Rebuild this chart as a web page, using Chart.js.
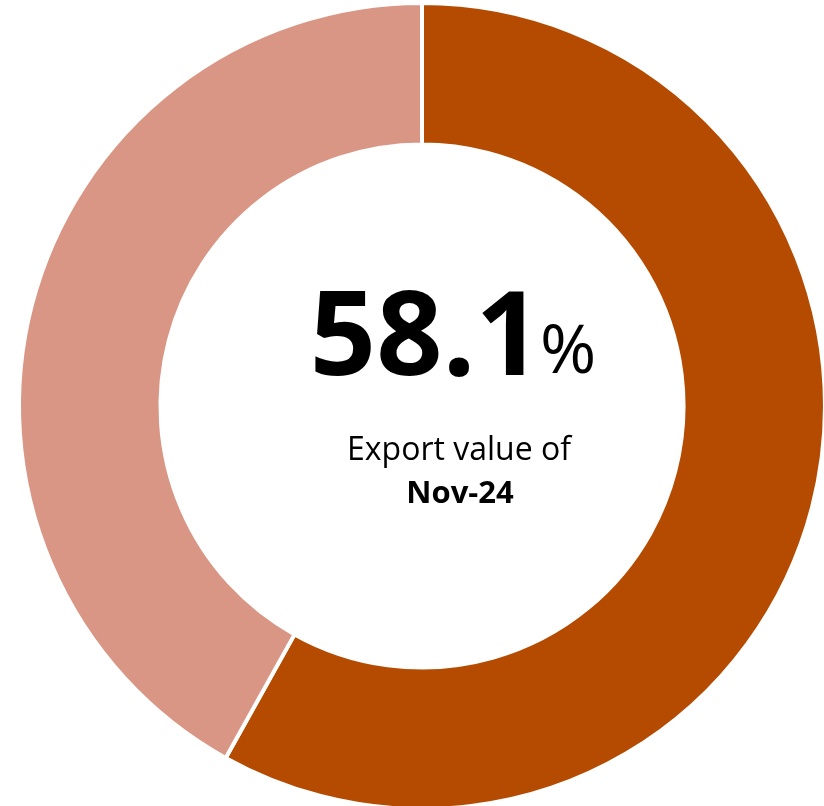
<!DOCTYPE html>
<html>
<head>
<meta charset="utf-8">
<script src="https://cdn.jsdelivr.net/npm/chart.js@4.4.1/dist/chart.umd.min.js"></script>
<style>
  html, body { margin: 0; padding: 0; background: #fff; }
  #wrap { width: 824px; height: 806px; position: relative; }
</style>
</head>
<body>
<div id="wrap"><canvas id="chart"></canvas></div>
<script>
// share of export value, month vs rest
const sliceLabels = ['Nov-24', 'Other'];
const sliceValues = [58.1, 41.9];
const sliceColors = ['#B54B00', '#D99684'];
const monthLabel = 'Nov-24';
const captionText = 'Export value of';

// big percentage + caption in the hole
const centerText = {
  id: 'centerText',
  afterDraw(chart) {
    const { ctx } = chart;
    const arc = chart.getDatasetMeta(0).data[0];
    const cx = arc.x, cy = arc.y;
    const num = sliceValues[0].toFixed(1);

    ctx.save();
    ctx.fillStyle = '#000';
    ctx.textBaseline = 'alphabetic';

    ctx.font = 'bold 116px "Open Sans"';
    const numW = ctx.measureText(num).width;
    ctx.font = '68px "Open Sans"';
    const pctW = ctx.measureText('%').width;
    const gap = -2;
    const startX = cx + 31 - (numW + pctW + gap) / 2;

    ctx.textAlign = 'left';
    ctx.font = 'bold 116px "Open Sans"';
    ctx.fillText(num, startX, cy - 31);
    ctx.font = '68px "Open Sans"';
    ctx.fillText('%', startX + numW + gap, cy - 33);

    ctx.textAlign = 'center';
    ctx.font = '32px "Open Sans"';
    ctx.fillText(captionText, cx + 37, cy + 54);
    ctx.font = 'bold 31px "Open Sans"';
    ctx.fillText(monthLabel, cx + 38, cy + 97);
    ctx.restore();
  }
};

new Chart(document.getElementById('chart'), {
  type: 'doughnut',
  data: {
    labels: sliceLabels,
    datasets: [{
      data: sliceValues,
      backgroundColor: sliceColors,
      borderColor: '#fff',
      borderWidth: 4,
      radius: 403,
      cutout: '64.9%'
    }]
  },
  options: {
    responsive: true,
    maintainAspectRatio: false,
    animation: false,
    layout: { padding: { left: 21, right: 1, top: 6, bottom: 0 } },
    plugins: {
      legend: { display: false },
      tooltip: { enabled: false }
    }
  },
  plugins: [centerText]
});
</script>
</body>
</html>
